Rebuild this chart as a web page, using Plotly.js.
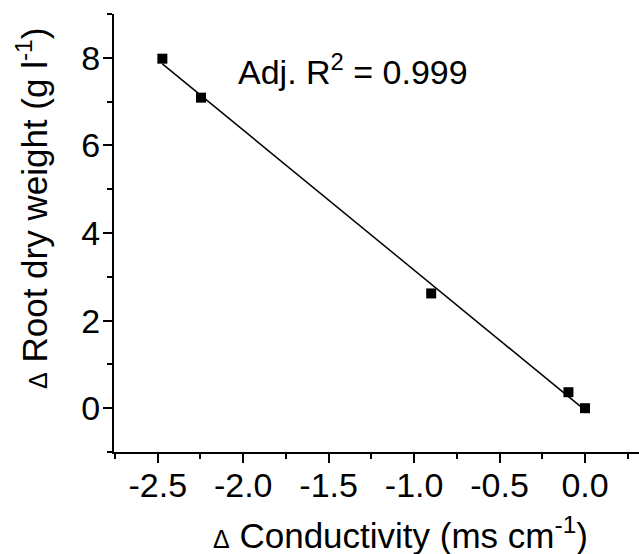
<!DOCTYPE html>
<html>
<head>
<meta charset="utf-8">
<script src="https://cdn.plot.ly/plotly-3.0.1.min.js"></script>
<style>html,body{margin:0;padding:0;background:#fff;}#chart{width:639px;height:554px;}</style>
</head>
<body>
<div id="chart"></div>
<script>
// Data
var conductivity = [-2.473, -2.247, -0.900, -0.097, 0.000];
var rootWeight   = [7.98, 7.09, 2.62, 0.365, 0.00];
var xTickVals = [-2.5, -2.0, -1.5, -1.0, -0.5, 0.0];
var xTickText = ['-2.5', '-2.0', '-1.5', '-1.0', '-0.5', '0.0'];
var yTickVals = [0, 2, 4, 6, 8];
var yTickText = ['0', '2', '4', '6', '8'];
var fitLabel = 'Adj. R<sup>2</sup> = 0.999';
var xTitle = '<span style="font-size:25px">\u0394</span> Conductivity (ms cm<sup>-1</sup>)';
var yTitle = '<span style="font-size:25px">\u0394</span> Root dry weight (g l<sup>-1</sup>)';

// Linear least-squares fit computed from the data
var n = conductivity.length, mx = 0, my = 0;
for (var i = 0; i < n; i++) { mx += conductivity[i]; my += rootWeight[i]; }
mx /= n; my /= n;
var sxy = 0, sxx = 0;
for (var i = 0; i < n; i++) { sxy += (conductivity[i]-mx)*(rootWeight[i]-my); sxx += (conductivity[i]-mx)*(conductivity[i]-mx); }
var slope = sxy / sxx, intercept = my - slope * mx;
var xmin = Math.min.apply(null, conductivity), xmax = Math.max.apply(null, conductivity);
var fitX = [xmin, xmax];
var fitY = fitX.map(function (v) { return intercept + slope * v; });

var FONT = '"Liberation Sans", Arial, Helvetica, sans-serif';

var traces = [
  { x: fitX, y: fitY, mode: 'lines', type: 'scatter', line: { color: '#000', width: 1.5 }, hoverinfo: 'skip', showlegend: false },
  { x: conductivity, y: rootWeight, mode: 'markers', type: 'scatter', marker: { symbol: 'square', size: 10, color: '#000' }, showlegend: false }
];

var axisCommon = {
  showgrid: false, zeroline: false, showline: true, linecolor: '#000', linewidth: 2,
  ticks: 'outside', ticklen: 9, tickwidth: 2, tickcolor: '#000',
  tickfont: { family: FONT, size: 34, color: '#000' },
  mirror: false
};

var plotW = 639 - 114, plotH = 554 - 14 - 102;
function px(x) { return (x - 114) / plotW; }
function py(y) { return (554 - 102 - y) / plotH; }

var layout = {
  width: 639, height: 554,
  margin: { l: 114, r: 0, t: 14, b: 102, pad: 0 },
  paper_bgcolor: '#fff', plot_bgcolor: '#fff',
  font: { family: FONT, color: '#000' },
  xaxis: Object.assign({}, axisCommon, {
    range: [-2.756, 0.316], tickmode: 'array', tickvals: xTickVals, ticktext: xTickText,
    ticklabelstandoff: -7,
    minor: { dtick: 0.25, tick0: 0, ticks: 'outside', ticklen: 5, tickwidth: 2, tickcolor: '#000' }
  }),
  yaxis: Object.assign({}, axisCommon, {
    range: [-1, 9], tickmode: 'array', tickvals: yTickVals, ticktext: yTickText,
    ticklabelstandoff: -4,
    minor: { dtick: 1, tick0: 0, ticks: 'outside', ticklen: 5, tickwidth: 2, tickcolor: '#000' }
  }),
  annotations: [
    { text: fitLabel, x: -2.04, y: 7.74, xref: 'x', yref: 'y', xanchor: 'left', yanchor: 'middle', showarrow: false,
      font: { family: FONT, size: 34, color: '#000' } },
    { text: xTitle, showarrow: false, xanchor: 'center', yanchor: 'middle', xref: 'paper', yref: 'paper', x: px(400), y: py(533),
      font: { family: FONT, size: 35, color: '#000' } },
    { text: yTitle, showarrow: false, textangle: -90, xanchor: 'center', yanchor: 'middle', xref: 'paper', yref: 'paper', x: px(32), y: py(209),
      font: { family: FONT, size: 35, color: '#000' } }
  ]
};

Plotly.newPlot('chart', traces, layout, { displayModeBar: false, staticPlot: true });
</script>
</body>
</html>
